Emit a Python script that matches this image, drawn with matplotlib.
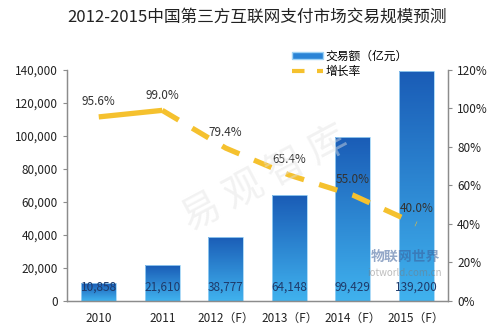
import matplotlib.pyplot as plt
import numpy as np
from matplotlib.patches import Patch
from matplotlib.lines import Line2D
from matplotlib.colors import LinearSegmentedColormap
from matplotlib.ticker import FuncFormatter

plt.rcParams['font.family'] = ['Noto Sans CJK SC', 'DejaVu Sans']

# data
years = ['2010', '2011', '2012（F）', '2013（F）', '2014（F）', '2015（F）']
volume = [10858, 21610, 38777, 64148, 99429, 139200]   # 交易额（亿元）
growth = [95.6, 99.0, 79.4, 65.4, 55.0, 40.0]          # 增长率 %

fig = plt.figure(figsize=(5, 3.32), dpi=100)
ax = fig.add_axes([0.134, 0.0934, 0.762, 0.696])
ax2 = ax.twinx()

x = np.arange(len(years))
bars = ax.bar(x, volume, width=0.55, color='none', edgecolor='#9fd3f5',
              linewidth=0.6, zorder=2)

# vertical gradient inside each bar
cmap = LinearSegmentedColormap.from_list('blues', ['#40b2ee', '#1a5cb6'])
grad = np.linspace(0, 1, 256).reshape(-1, 1)
for b in bars:
    x0, y0 = b.get_x(), b.get_y()
    im = ax.imshow(grad, cmap=cmap, origin='lower', aspect='auto',
                   extent=[x0, x0 + b.get_width(), y0, y0 + b.get_height()],
                   zorder=1)
    im.set_clip_path(b)

ax.set_xlim(-0.5, len(years) - 0.5)
ax.set_ylim(0, 140000)
ax.set_yticks(range(0, 140001, 20000))
ax.yaxis.set_major_formatter(FuncFormatter(lambda v, p: f'{int(v):,}'))
ax.set_xticks(x)
ax.set_xticklabels(years)

for xi, v in zip(x, volume):
    ax.text(xi, 4500, f'{v:,}', ha='center', va='bottom', fontsize=8.5,
            color='#1f3a6a', zorder=3)

# growth line
ax2.plot(x[:2], growth[:2], color='#f5c12e', lw=3.8, solid_capstyle='butt', zorder=4)
ax2.plot(x[1:], growth[1:], color='#f5c12e', lw=3.8, dashes=(3.6, 3),
         dash_capstyle='butt', zorder=4)
ax2.set_ylim(0, 120)
ax2.set_yticks(range(0, 121, 20))
ax2.yaxis.set_major_formatter(FuncFormatter(lambda v, p: f'{int(v)}%'))
for xi, g in zip(x, growth):
    ax2.text(xi, g + 4.5, f'{g:.1f}%', ha='center', va='bottom', fontsize=8.5,
             color='#333333', zorder=5)

for a in (ax, ax2):
    a.spines['top'].set_visible(False)
    for s in ('left', 'right', 'bottom'):
        a.spines[s].set_color('#8c8c8c')
        a.spines[s].set_linewidth(0.9)
    a.tick_params(axis='y', labelsize=8.5, colors='#8c8c8c', labelcolor='#222222',
                  length=3, width=0.8)
ax.tick_params(axis='x', length=0, labelsize=8.5, labelcolor='#222222', pad=8)

# watermarks
fig.text(0.53, 0.46, '易 观 智 库', fontsize=28, color='#e2e2e2', alpha=0.45,
         rotation=28, ha='center', va='center', zorder=0)
fig.text(0.81, 0.225, '物联网世界', fontsize=10, color='#3b5f9a', alpha=0.55,
         ha='center', va='center', fontweight='bold')
fig.text(0.81, 0.178, 'iotworld.com.cn', fontsize=7, color='#7a7a7a', alpha=0.5,
         ha='center', va='center')

fig.suptitle('2012-2015中国第三方互联网支付市场交易规模预测', x=0.515, y=0.975,
             fontsize=12, color='#222222')

handles = [Patch(facecolor='#2a84d6', edgecolor='#9fd3f5'),
           Line2D([0], [0], color='#f5c12e', lw=3, dashes=(3, 3))]
fig.legend(handles, ['交易额（亿元）', '增长率'], loc='upper left',
           bbox_to_anchor=(0.575, 0.865), frameon=False, fontsize=8.5,
           handlelength=2.6, handleheight=0.5, labelspacing=0.2,
           handletextpad=0.2, borderaxespad=0)

fig.savefig('out.png', dpi=100)
